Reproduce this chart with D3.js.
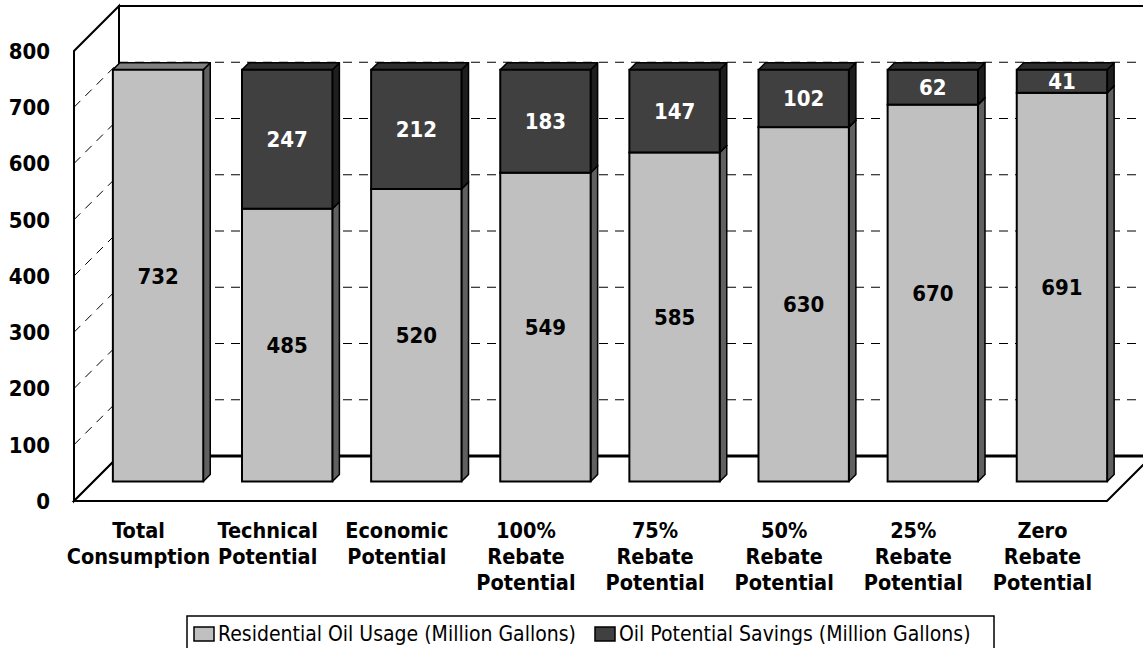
<!DOCTYPE html>
<html>
<head>
<meta charset="utf-8">
<script src="https://cdn.jsdelivr.net/npm/d3@7"></script>
<style>
  body { margin: 0; background: #fff; }
  svg { display: block; }
  text { font-family: "DejaVu Sans Condensed", "DejaVu Sans", sans-serif; }
</style>
</head>
<body>
<svg width="1143" height="648"></svg>
<script>
// chart values
var categories = ["Total Consumption", "Technical Potential", "Economic Potential",
  "100% Rebate Potential", "75% Rebate Potential", "50% Rebate Potential",
  "25% Rebate Potential", "Zero Rebate Potential"];
var usage   = [732, 485, 520, 549, 585, 630, 670, 691];
var savings = [0, 247, 212, 183, 147, 102, 62, 41];
var yTicks = [0, 100, 200, 300, 400, 500, 600, 700, 800];
var seriesNames = ["Residential Oil Usage (Million Gallons)", "Oil Potential Savings (Million Gallons)"];

var svg = d3.select("svg");

// 3d box: floor depth in px, bars sit part way in
var depth = 45, barFront = 19.5, barDepth = 7;

var x = d3.scaleBand().domain(categories)
    .range([74, 1107]).paddingInner(0.3).paddingOuter(0.15);
var y = d3.scaleLinear().domain([0, 800]).range([501, 51]);

var faces = {
  usage:   { front: "#c0c0c0", top: "#808080", side: "#606060", text: "#000" },
  savings: { front: "#404040", top: "#2e2e2e", side: "#1e1e1e", text: "#fff" }
};

var x0 = x.range()[0], x1 = x.range()[1];

// walls and floor
svg.append("polygon")
    .attr("points", [[x0, y(0)], [x0, y(800)], [x0 + depth, y(800) - depth], [x0 + depth, y(0) - depth]].join(" "))
    .attr("fill", "#fff").attr("stroke", "#000").attr("stroke-width", 2);
svg.append("polygon")
    .attr("points", [[x0 + depth, y(0) - depth], [x0 + depth, y(800) - depth], [x1 + depth, y(800) - depth], [x1 + depth, y(0) - depth]].join(" "))
    .attr("fill", "#fff").attr("stroke", "#000").attr("stroke-width", 2);

var grid = yTicks.filter(function(v) { return v > 0 && v < 800; });
svg.selectAll("line.gback").data(grid).enter().append("line")
    .attr("class", "gback")
    .attr("x1", x0 + depth).attr("x2", x1 + depth)
    .attr("y1", function(d) { return y(d) - depth; })
    .attr("y2", function(d) { return y(d) - depth; })
    .attr("stroke", "#000").attr("stroke-width", 1).attr("stroke-dasharray", "9,7");
svg.selectAll("line.gside").data(grid).enter().append("line")
    .attr("class", "gside")
    .attr("x1", x0).attr("x2", x0 + depth)
    .attr("y1", function(d) { return y(d); })
    .attr("y2", function(d) { return y(d) - depth; })
    .attr("stroke", "#000").attr("stroke-width", 1).attr("stroke-dasharray", "9,7");

svg.append("polygon")
    .attr("points", [[x0, y(0)], [x1, y(0)], [x1 + depth, y(0) - depth], [x0 + depth, y(0) - depth]].join(" "))
    .attr("fill", "#fff").attr("stroke", "#000").attr("stroke-width", 2);
svg.append("line")
    .attr("x1", x0 + depth).attr("x2", x1 + depth)
    .attr("y1", y(0) - depth).attr("y2", y(0) - depth)
    .attr("stroke", "#000").attr("stroke-width", 3);

// y axis labels on the front edge
svg.selectAll("text.ytick").data(yTicks).enter().append("text")
    .attr("class", "ytick")
    .attr("x", 50).attr("y", function(d) { return y(d); })
    .attr("dy", "0.36em").attr("text-anchor", "end")
    .attr("font-size", 22).attr("font-weight", "bold")
    .text(function(d) { return d; });

// stacked bars
var rows = categories.map(function(c, i) { return { cat: c, usage: usage[i], savings: savings[i] }; });
var stack = d3.stack().keys(["usage", "savings"])(rows);

var w = x.bandwidth();
stack.forEach(function(layer) {
  var f = faces[layer.key];
  layer.forEach(function(seg) {
    if (seg[1] - seg[0] <= 0) return;
    var xf = x(seg.data.cat) + barFront;
    var yTop = y(seg[1]) - barFront, yBot = y(seg[0]) - barFront;
    var g = svg.append("g");
    g.append("polygon")
        .attr("points", [[xf + w, yBot], [xf + w, yTop], [xf + w + barDepth, yTop - barDepth], [xf + w + barDepth, yBot - barDepth]].join(" "))
        .attr("fill", f.side).attr("stroke", "#000").attr("stroke-width", 1.5).attr("stroke-linejoin", "round");
    g.append("polygon")
        .attr("points", [[xf, yTop], [xf + barDepth, yTop - barDepth], [xf + w + barDepth, yTop - barDepth], [xf + w, yTop]].join(" "))
        .attr("fill", f.top).attr("stroke", "#000").attr("stroke-width", 1.5).attr("stroke-linejoin", "round");
    g.append("rect")
        .attr("x", xf).attr("y", yTop).attr("width", w).attr("height", yBot - yTop)
        .attr("fill", f.front).attr("stroke", "#000").attr("stroke-width", 2);
  });
});

// value labels
stack.forEach(function(layer) {
  var f = faces[layer.key];
  svg.selectAll("text.v-" + layer.key)
      .data(layer.filter(function(s) { return s[1] - s[0] > 0; }))
      .enter().append("text")
      .attr("class", "v-" + layer.key)
      .attr("x", function(s) { return x(s.data.cat) + barFront + w / 2; })
      .attr("y", function(s) { return (y(s[0]) + y(s[1])) / 2 - barFront; })
      .attr("dy", "0.36em").attr("text-anchor", "middle")
      .attr("font-size", 22).attr("font-weight", "bold").attr("fill", f.text)
      .text(function(s) { return s[1] - s[0]; });
});

// category labels, one word per line
svg.selectAll("text.cat").data(categories).enter().append("text")
    .attr("class", "cat")
    .attr("text-anchor", "middle").attr("font-size", 21.5).attr("font-weight", "bold")
    .each(function(c) {
      var t = d3.select(this);
      c.split(" ").forEach(function(word, i) {
        t.append("tspan")
            .attr("x", x(c) + w / 2)
            .attr("y", 538 + i * 26)
            .text(word);
      });
    });

// legend
var lg = svg.append("g");
lg.append("rect").attr("x", 187).attr("y", 616).attr("width", 807).attr("height", 45)
    .attr("fill", "#fff").attr("stroke", "#000").attr("stroke-width", 1.5);
var legendX = [194, 595];
seriesNames.forEach(function(name, i) {
  var f = faces[i === 0 ? "usage" : "savings"];
  lg.append("rect").attr("x", legendX[i]).attr("y", 627).attr("width", 20).attr("height", 14)
      .attr("fill", f.front).attr("stroke", "#000").attr("stroke-width", 1.5);
  lg.append("text").attr("x", legendX[i] + 24).attr("y", 641)
      .attr("font-size", 21).text(name);
});
</script>
</body>
</html>
